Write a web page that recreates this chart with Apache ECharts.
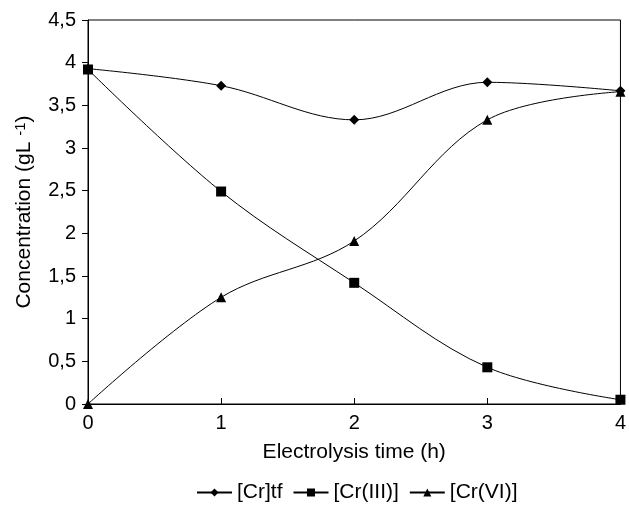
<!DOCTYPE html>
<html><head><meta charset="utf-8">
<script src="https://cdn.jsdelivr.net/npm/echarts@6/dist/echarts.min.js"></script>
<style>html,body{margin:0;padding:0;background:#fff}#c{width:629px;height:509px}</style>
</head><body><div id="c"></div>
<script>
const times = [0, 1, 2, 3, 4];
const crTf = [3.93, 3.73, 3.33, 3.77, 3.67];
const crIII = [3.92, 2.49, 1.42, 0.43, 0.05];
const crVI = [0.0, 1.25, 1.91, 3.33, 3.66];
const seriesNames = ['[Cr]tf', '[Cr(III)]', '[Cr(VI)]'];
const fmt = v => String(v).replace('.', ',');
const pair = arr => times.map((t, i) => [t, arr[i]]);
const chart = echarts.init(document.getElementById('c'));
const font = 'Liberation Sans, Arial, sans-serif';
const mk = (name, data, symbol, size) => ({
  name, type: 'line', data: pair(data), smooth: 0.35, symbol, symbolSize: size,
  lineStyle: {color: '#000', width: 1}, itemStyle: {color: '#000'}
});
chart.setOption({
  animation: false,
  grid: {left: 88, right: 7, top: 20, bottom: 105, show: true, borderColor: '#000', borderWidth: 1},
  legend: {
    top: 482, left: 196, itemWidth: 35, itemHeight: 10, itemGap: 10, padding: 0,
    textStyle: {fontFamily: font, fontSize: 21, color: '#000'},
    data: seriesNames
  },
  xAxis: {
    type: 'value', min: 0, max: 4, interval: 1,
    name: 'Electrolysis time (h)', nameLocation: 'middle', nameGap: 38,
    nameTextStyle: {fontFamily: font, fontSize: 21, color: '#000'},
    axisLine: {lineStyle: {color: '#000'}},
    axisTick: {inside: true, length: 6, lineStyle: {color: '#000'}},
    axisLabel: {fontFamily: font, fontSize: 20, color: '#000', margin: 9},
    splitLine: {show: false}
  },
  yAxis: {
    type: 'value', min: 0, max: 4.5, interval: 0.5,
    name: '{n|Concentration (gL }{s|-1}{n|)}', nameLocation: 'middle', nameGap: 52,
    nameTextStyle: {fontFamily: font, fontSize: 21, color: '#000',
      rich: {n: {fontFamily: font, fontSize: 21, color: '#000'},
             s: {fontFamily: font, fontSize: 15, color: '#000', verticalAlign: 'top', padding: [0, 0, 8, 0]}}},
    axisLine: {show: true, lineStyle: {color: '#000'}},
    axisTick: {show: true, length: 6, lineStyle: {color: '#000'}},
    axisLabel: {fontFamily: font, fontSize: 20, color: '#000', margin: 12, formatter: fmt},
    splitLine: {show: false}
  },
  series: [
    mk(seriesNames[0], crTf, 'diamond', 10),
    mk(seriesNames[1], crIII, 'rect', 10),
    mk(seriesNames[2], crVI, 'triangle', 10)
  ]
});
</script></body></html>
